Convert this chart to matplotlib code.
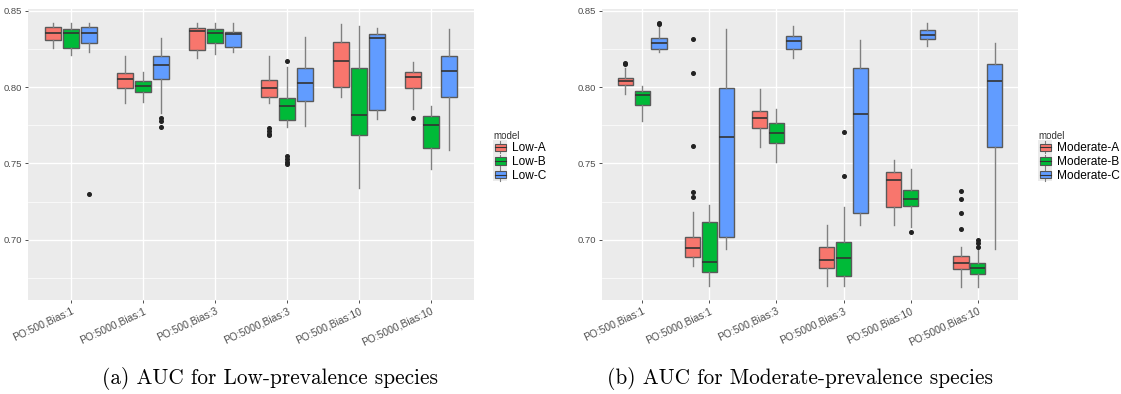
import matplotlib
matplotlib.use("Agg")
import matplotlib.pyplot as plt
from matplotlib.patches import Rectangle, Patch
from matplotlib.lines import Line2D
from matplotlib.legend_handler import HandlerBase

groups = ["PO:500,Bias:1", "PO:5000,Bias:1", "PO:500,Bias:3",
          "PO:5000,Bias:3", "PO:500,Bias:10", "PO:5000,Bias:10"]

# (whisker low, q1, median, q3, whisker high) per group
low_a = [(0.826, 0.831, 0.8354, 0.8393, 0.8423),
         (0.7895, 0.7997, 0.8052, 0.8092, 0.8205),
         (0.8194, 0.8244, 0.8371, 0.8389, 0.8423),
         (0.7895, 0.7938, 0.7997, 0.8048, 0.8205),
         (0.7938, 0.8004, 0.8172, 0.8295, 0.8415),
         (0.7856, 0.7997, 0.8065, 0.8098, 0.8168)]
low_b = [(0.821, 0.8256, 0.8354, 0.838, 0.8423),
         (0.790, 0.7967, 0.8011, 0.8043, 0.810),
         (0.8216, 0.8288, 0.8354, 0.838, 0.8423),
         (0.7742, 0.7786, 0.7877, 0.7928, 0.8131),
         (0.7338, 0.7687, 0.7818, 0.8124, 0.8404),
         (0.7463, 0.760, 0.7753, 0.7812, 0.7879)]
low_c = [(0.8233, 0.8288, 0.8354, 0.8393, 0.8423),
         (0.783, 0.8052, 0.8146, 0.8205, 0.8321),
         (0.8233, 0.8266, 0.8347, 0.836, 0.8423),
         (0.7746, 0.791, 0.803, 0.8129, 0.8328),
         (0.779, 0.7851, 0.8325, 0.8347, 0.8391),
         (0.7589, 0.7938, 0.8107, 0.8205, 0.838)]
low_a_out = [[], [], [], [0.773, 0.771, 0.7695, 0.7687], [], [0.7797]]
low_b_out = [[], [], [], [0.8172, 0.755, 0.753, 0.751, 0.7495], [], []]
low_c_out = [[0.7299], [0.7797, 0.7781, 0.774], [], [], [], []]

mod_a = [(0.7956, 0.8013, 0.8043, 0.8063, 0.8125),
         (0.6831, 0.689, 0.6945, 0.7017, 0.7185),
         (0.7611, 0.7735, 0.7799, 0.7847, 0.7987),
         (0.6698, 0.6818, 0.6868, 0.6951, 0.7098),
         (0.7098, 0.7214, 0.7393, 0.7443, 0.7524),
         (0.6693, 0.6807, 0.6846, 0.6894, 0.6955)]
mod_b = [(0.7781, 0.7884, 0.795, 0.7976, 0.8009),
         (0.6698, 0.679, 0.6851, 0.7115, 0.7229),
         (0.7509, 0.7633, 0.7698, 0.7768, 0.7856),
         (0.6698, 0.6763, 0.6879, 0.6984, 0.7218),
         (0.7085, 0.7222, 0.7268, 0.7327, 0.7463),
         (0.6693, 0.6775, 0.6814, 0.6846, 0.6945)]
mod_c = [(0.8233, 0.8251, 0.8292, 0.8321, 0.8402),
         (0.6938, 0.7021, 0.7672, 0.7993, 0.838),
         (0.8194, 0.8249, 0.8305, 0.8336, 0.8402),
         (0.7094, 0.7174, 0.7823, 0.8124, 0.831),
         (0.8273, 0.8317, 0.8343, 0.8375, 0.8423),
         (0.6938, 0.7611, 0.8041, 0.815, 0.8292)]
mod_a_out = [[0.8161, 0.8152], [0.8314, 0.8096, 0.7615, 0.731, 0.7283], [], [], [],
             [0.732, 0.7266, 0.7174, 0.7073]]
mod_b_out = [[], [], [], [0.7705, 0.7421], [0.7054], [0.6999, 0.6978, 0.6955]]
mod_c_out = [[0.8421, 0.8415], [], [], [], [], []]

colors = ["#F8766D", "#00BA38", "#619CFF"]
BG = "#EBEBEB"


class BoxKey(HandlerBase):
    # ggplot-style legend key: grey square, whisker, box, median
    def create_artists(self, legend, orig, xd, yd, w, h, fs, trans):
        s = 1.17 * fs
        bx = -xd + (w - s) / 2
        by = -yd + (h - s) / 2
        bg = Rectangle((bx, by), s, s, facecolor=BG, edgecolor="none", transform=trans)
        wl = Line2D([bx + s / 2] * 2, [by + 0.05 * s, by + 0.95 * s], color="#7f7f7f", lw=0.8, transform=trans)
        box = Rectangle((bx + 0.08 * s, by + 0.22 * s), 0.84 * s, 0.56 * s, facecolor=orig.get_facecolor(),
                        edgecolor="#555555", lw=0.8, transform=trans)
        md = Line2D([bx + 0.08 * s, bx + 0.92 * s], [by + s / 2] * 2, color="#333333", lw=0.8, transform=trans)
        return [bg, wl, box, md]


def draw_panel(ax, series, outs, labels, legend_xy):
    n = len(groups)
    for k, (data, fl, col) in enumerate(zip(series, outs, colors)):
        stats = []
        for (lo, q1, med, q3, hi), f in zip(data, fl):
            stats.append(dict(whislo=lo, q1=q1, med=med, q3=q3, whishi=hi, fliers=f))
        pos = [i + 1 + (k - 1) * 0.25 for i in range(n)]
        ax.bxp(stats, positions=pos, widths=0.225, patch_artist=True, showcaps=False,
               boxprops=dict(facecolor=col, edgecolor="#5a5a5a", linewidth=1.0),
               whiskerprops=dict(color="#808080", linewidth=1.0),
               medianprops=dict(color="#333333", linewidth=1.2),
               flierprops=dict(marker="o", markersize=2.6, markerfacecolor="#222222",
                               markeredgecolor="#222222"),
               manage_ticks=False, zorder=3)
    ax.set_facecolor(BG)
    ax.set_xlim(0.4, n + 0.6)
    ax.set_ylim(0.6605, 0.8513)
    ax.set_xticks(range(1, n + 1))
    ax.set_xticklabels(groups, rotation=25, ha="right", rotation_mode="anchor",
                       fontsize=7.4, color="#4D4D4D", family="Liberation Sans")
    ax.set_yticks([0.70, 0.75, 0.80, 0.85])
    ax.set_yticklabels(["0.70", "0.75", "0.80", "0.85"], fontsize=6.8, color="#4D4D4D",
                       family="Liberation Sans")
    ax.set_yticks([0.675, 0.725, 0.775, 0.825], minor=True)
    ax.grid(which="major", color="white", linewidth=1.0, zorder=0)
    ax.grid(which="minor", axis="y", color="white", linewidth=0.5, zorder=0)
    ax.set_axisbelow(True)
    ax.tick_params(which="major", length=2.5, width=0.6, color="#333333", pad=1.5)
    ax.tick_params(which="minor", length=0)
    for s in ax.spines.values():
        s.set_visible(False)
    handles = [Patch(facecolor=c) for c in colors]
    leg = ax.figure.legend(handles, labels, title="model", loc="upper left",
                           bbox_to_anchor=legend_xy, frameon=False,
                           handler_map={Patch: BoxKey()},
                           prop=dict(family="Liberation Sans", size=8.6),
                           title_fontproperties=dict(family="Liberation Sans", size=7),
                           handlelength=1.25, handleheight=1.3, handletextpad=0.35,
                           labelspacing=0.0, borderpad=0, alignment="left")
    leg.get_title().set_color("#333333")


fig = plt.figure(figsize=(11.21, 3.94), dpi=100)
ax1 = fig.add_axes([28 / 1121, 1 - 300 / 394, 446 / 1121, 291 / 394])
ax2 = fig.add_axes([602 / 1121, 1 - 300 / 394, 416 / 1121, 291 / 394])

draw_panel(ax1, [low_a, low_b, low_c], [low_a_out, low_b_out, low_c_out],
           ["Low-A", "Low-B", "Low-C"], (487 / 1121, 1 - 125 / 394))
draw_panel(ax2, [mod_a, mod_b, mod_c], [mod_a_out, mod_b_out, mod_c_out],
           ["Moderate-A", "Moderate-B", "Moderate-C"], (1032 / 1121, 1 - 125 / 394))

fig.text(270 / 1121, 1 - 378 / 394, "(a) AUC for Low-prevalence species", ha="center", va="center",
         fontsize=15.3, family="cmr10")
fig.text(800 / 1121, 1 - 378 / 394, "(b) AUC for Moderate-prevalence species", ha="center", va="center",
         fontsize=15.3, family="cmr10")

fig.savefig("out.png", dpi=100)
